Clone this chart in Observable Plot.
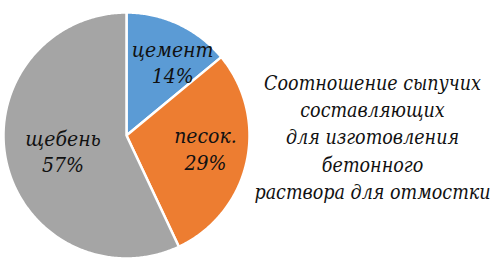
<!DOCTYPE html>
<html><head><meta charset="utf-8">
<script src="https://cdn.jsdelivr.net/npm/d3@7"></script>
<script src="https://cdn.jsdelivr.net/npm/@observablehq/plot@0.6"></script>
<style>body{margin:0;background:#fff}</style>
</head><body><div id="chart"></div>
<script>
const categories = ["цемент", "песок.", "щебень"];
const values = [14, 29, 57];
const valueLabels = ["14%", "29%", "57%"];
const colors = ["#5B9BD5", "#ED7D31", "#A5A5A5"];
const titleLines = ["Соотношение сыпучих", "составляющих", "для изготовления", "бетонного", "раствора для отмостки"];

// layout constants for label placement (radius fraction, angle shift in degrees)
const labelR = [0.71, 0.65, 0.53];
const labelShift = [6.7, -3.6, -0.8];
const font = "'DejaVu Serif Condensed', 'DejaVu Serif', serif";

const total = d3.sum(values);
const slices = [];
let acc = 0;
categories.forEach((c, i) => {
  const a0 = acc / total * 2 * Math.PI;
  acc += values[i];
  const a1 = acc / total * 2 * Math.PI;
  slices.push({name: c, a0, a1, label: valueLabels[i]});
});
const pts = [];
for (const s of slices) {
  pts.push({name: s.name, x: 0, y: 0});
  const n = Math.max(2, Math.ceil((s.a1 - s.a0) / 0.01));
  for (let k = 0; k <= n; k++) {
    const a = s.a0 + (s.a1 - s.a0) * k / n;
    pts.push({name: s.name, x: Math.sin(a), y: Math.cos(a)});
  }
  pts.push({name: s.name, x: 0, y: 0});
}
const labelData = slices.map((s, i) => {
  const a = (s.a0 + s.a1) / 2 + labelShift[i] * Math.PI / 180;
  return {text: s.name + "\n" + s.label, x: labelR[i] * Math.sin(a), y: labelR[i] * Math.cos(a)};
});

const plot = Plot.plot({
  width: 496, height: 262, margin: 0,
  style: {background: "#fff"},
  x: {domain: [-1, 1], range: [3, 249], axis: null},
  y: {domain: [-1, 1], range: [258, 12], axis: null},
  color: {domain: categories, range: colors},
  marks: [
    Plot.line(pts, {x: "x", y: "y", z: "name", fill: "name", stroke: "white", strokeWidth: 2.5, strokeLinejoin: "round"}),
    Plot.text(labelData, {x: "x", y: "y", text: "text", fontSize: 21, fontStyle: "italic", fontFamily: font, fill: "#111", lineHeight: 1.25}),
    Plot.text([titleLines.join("\n")], {frameAnchor: "left", dx: 372, dy: 4, textAnchor: "middle", fontSize: 19.5, fontStyle: "italic", fontFamily: font, fill: "#111", lineHeight: 1.4})
  ]
});
document.getElementById("chart").appendChild(plot);
</script>
</body></html>
